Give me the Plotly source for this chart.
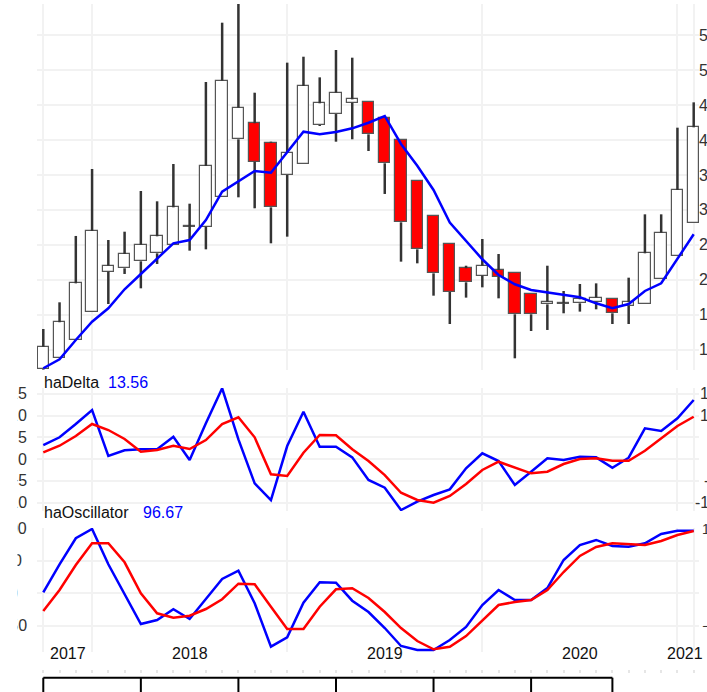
import plotly.graph_objects as go

W, H = 707, 692

# monthly heikin-ashi candles, index 0 = Oct 2016 ... index 40 = Feb 2021
ha_high = [13.0, 16.81, 26.29, 35.86, 25.71, 26.9, 32.71, 31.24, 36.57, 30.9,
           48.29, 56.76, 59.43, 46.76, 39.76, 51.05, 51.9, 48.95, 52.86, 51.76,
           45.48, 43.19, 40.0, 34.14, 29.19, 25.1, 22.04, 25.86, 23.71, 20.95,
           18.0, 22.04, 18.43, 19.43, 19.52, 17.24, 20.33, 29.38, 29.38, 41.76, 45.38]
ha_open = [7.29, 8.81, 11.43, 15.48, 21.19, 21.67, 22.67, 23.81, 25.0, 27.62,
           27.62, 31.9, 40.1, 42.38, 39.62, 35.0, 36.57, 42.14, 43.71, 45.33,
           45.48, 43.19, 40.0, 34.14, 29.19, 25.1, 21.67, 20.62, 21.43, 20.95,
           18.0, 16.52, 16.7, 16.67, 16.9, 17.24, 16.29, 16.52, 20.14, 23.43, 28.19]
ha_close = [10.47, 13.96, 19.52, 27.0, 22.04, 23.71, 25.04, 26.24, 30.38, 27.62,
            36.29, 48.48, 44.62, 36.9, 30.38, 38.19, 47.71, 45.24, 46.76, 45.81,
            40.81, 36.67, 28.24, 24.38, 20.95, 18.29, 19.67, 22.04, 20.48, 15.1,
            15.1, 16.9, 16.62, 17.24, 17.48, 15.24, 16.81, 23.81, 26.76, 32.86, 41.81]
ha_low = [7.2, 8.81, 11.43, 15.48, 16.57, 20.86, 18.81, 22.29, 25.0, 24.19,
          24.38, 31.9, 31.81, 30.24, 25.24, 26.19, 36.57, 42.0, 39.76, 40.1,
          38.43, 32.29, 22.62, 22.38, 17.76, 13.71, 17.48, 18.95, 17.38, 8.81,
          12.71, 12.86, 15.24, 15.48, 15.81, 13.71, 13.71, 16.52, 20.14, 23.43, 28.19]
ha_ma = [7.39, 8.67, 11.43, 14.04, 15.96, 18.67, 20.86, 23.1, 25.24, 25.71,
         28.57, 32.61, 34.04, 35.57, 35.33, 38.33, 41.19, 40.81, 41.14, 41.67,
         42.47, 43.43, 39.43, 36.33, 32.86, 28.19, 25.61, 22.96, 20.71, 19.39,
         18.57, 18.24, 17.96, 17.53, 16.67, 15.96, 16.57, 18.43, 19.53, 23.1, 26.53]

delta = [3.23, 5.0, 8.05, 11.26, 0.71, 2.02, 2.25, 2.25, 5.14, -0.21,
         8.21, 16.24, 4.54, -5.55, -9.38, 3.0, 10.87, 2.84, 2.84, 0.41,
         -4.79, -6.56, -11.67, -9.77, -8.23, -6.93, -2.11, 1.33, -0.44, -5.94,
         -2.89, 0.18, -0.21, 0.55, 0.41, -1.97, 0.32, 7.06, 6.44, 9.36, 13.56]
delta_signal = [1.56, 3.07, 5.3, 8.05, 6.67, 4.61, 1.7, 2.09, 3.07, 2.32,
                4.38, 8.05, 9.59, 5.0, -3.49, -3.88, 1.47, 5.53, 5.46, 2.25,
                -0.44, -3.65, -7.71, -9.38, -10.0, -8.46, -5.71, -2.5, -0.6, -1.88,
                -3.26, -2.89, -1.12, 0.02, 0.18, -0.37, -0.37, 1.93, 4.77, 7.59, 9.72]

osc = [1.4, 44.7, 85.0, 99.4, 44.7, -1.7, -47.7, -41.5, -24.9, -39.9,
       -9.0, 22.0, 34.8, -15.6, -82.8, -68.3, -14.7, 16.9, 16.3, -11.6,
       -29.1, -53.9, -81.7, -87.9, -87.9, -72.4, -52.3, -18.3, 5.0, -10.5,
       -10.5, 8.0, 51.4, 74.6, 82.4, 73.1, 72.0, 77.2, 91.6, 96.67, 96.67]
osc_signal = [-27.6, 5.0, 43.7, 77.2, 77.2, 47.8, -0.2, -31.1, -37.9, -34.8,
              -24.5, -9.4, 14.7, 13.8, -20.9, -55.4, -55.4, -20.9, 6.0, 7.6,
              -7.4, -29.1, -53.9, -74.0, -86.8, -82.8, -66.3, -41.5, -18.3, -13.6,
              -10.5, 5.0, 32.8, 57.6, 71.5, 77.2, 76.2, 74.6, 80.8, 90.1, 96.3]

price_ticks = [10, 15, 20, 25, 30, 35, 40, 45, 50, 55]
delta_ticks = [15, 10, 5, 0, -5, -10]
osc_ticks = [100, 50, 0, -50]
year_labels = ["2017", "2018", "2019", "2020", "2021"]
year_pos = [1.5, 9, 21, 33, 39.45]
grid_x = [0, 3, 15, 27, 39, 40]
bottom_ticks = [0, 6, 12, 18, 24, 30, 35]

FONT = "Liberation Sans, Arial, sans-serif"
GRID = "#F2F2F2"
BLUE = "#0000FF"
RED = "#FF0000"
LABEL = "#333333"


def px_x(p):
    return p / W


def px_y(p):
    return 1 - p / H


def lab(v, minus="\u2212"):
    return str(v).replace("-", minus)


idx = list(range(len(ha_open)))

# wicks drawn above and below the body so they never cross it
wx, wy = [], []
for i in idx:
    top = max(ha_open[i], ha_close[i])
    bot = min(ha_open[i], ha_close[i])
    wx += [i, i, None, i, i, None]
    wy += [ha_high[i], top, None, bot, ha_low[i], None]

body_base = [min(o, c) for o, c in zip(ha_open, ha_close)]
body_len = [max(abs(c - o), 0.12) for o, c in zip(ha_open, ha_close)]
body_fill = ["white" if c >= o else RED for o, c in zip(ha_open, ha_close)]

fig = go.Figure()
fig.add_trace(go.Bar(x=idx, base=body_base, y=body_len, width=0.7,
                     marker=dict(color=body_fill, line=dict(color="#555555", width=1.2)),
                     xaxis="x", yaxis="y"))
fig.add_trace(go.Scatter(x=wx, y=wy, mode="lines", line=dict(color="#333333", width=2.5),
                         xaxis="x", yaxis="y"))
fig.add_trace(go.Scatter(x=idx, y=ha_ma, mode="lines", line=dict(color=BLUE, width=2.5),
                         xaxis="x", yaxis="y"))

fig.add_trace(go.Scatter(x=idx, y=delta, mode="lines", line=dict(color=BLUE, width=2.5),
                         xaxis="x2", yaxis="y2"))
fig.add_trace(go.Scatter(x=idx, y=delta_signal, mode="lines", line=dict(color=RED, width=2.5),
                         xaxis="x2", yaxis="y2"))

fig.add_trace(go.Scatter(x=idx, y=osc, mode="lines", line=dict(color=BLUE, width=2.5),
                         xaxis="x3", yaxis="y3"))
fig.add_trace(go.Scatter(x=idx, y=osc_signal, mode="lines", line=dict(color=RED, width=2.5),
                         xaxis="x3", yaxis="y3"))

xrange = [-0.387, 40.326]
xcommon = dict(domain=[px_x(37), px_x(699)], range=xrange, tickvals=grid_x,
               showticklabels=False, showgrid=True, gridcolor=GRID, gridwidth=2,
               zeroline=False, showline=False, fixedrange=True)
ycommon = dict(showticklabels=False, showgrid=True, gridcolor=GRID, gridwidth=2,
               zeroline=False, showline=False, ticks="", fixedrange=True)

fig.update_layout(
    width=W, height=H,
    margin=dict(l=0, r=0, t=0, b=0),
    paper_bgcolor="white", plot_bgcolor="white",
    showlegend=False, bargap=0,
    font=dict(family=FONT, size=16, color=LABEL),
    xaxis=dict(anchor="y", ticks="", **xcommon),
    xaxis2=dict(anchor="y2", ticks="", matches="x", **xcommon),
    xaxis3=dict(anchor="free", position=px_y(673), matches="x",
                ticks="inside", ticklen=3, tickcolor="#E6E6E6", tickwidth=1.5,
                minor=dict(tickmode="array", tickvals=idx, ticks="inside", ticklen=3,
                           tickcolor="#E6E6E6", tickwidth=1.5, showgrid=False),
                **xcommon),
    yaxis=dict(domain=[px_y(370), px_y(4)], range=[7.14, 59.43], tickvals=price_ticks, **ycommon),
    yaxis2=dict(domain=[px_y(511), px_y(388)], range=[-11.9, 16.31], tickvals=delta_ticks, **ycommon),
    yaxis3=dict(domain=[px_y(652), px_y(528)], range=[-91.0, 100.9], tickvals=osc_ticks, **ycommon),
)

ann = []
# price labels on the right, running off the edge of the page as in the source image
for v in price_ticks:
    ann.append(dict(x=px_x(697.5), xref="paper", xanchor="left", y=v, yref="y",
                    text=str(v), showarrow=False, borderpad=0,
                    font=dict(size=16, color=LABEL)))
# right-hand labels of the indicator panels (mostly off the page)
for v in delta_ticks:
    ann.append(dict(x=px_x(719), xref="paper", xanchor="right", y=v, yref="y2",
                    text=str(v), showarrow=False, borderpad=0,
                    font=dict(size=16, color=LABEL)))
for v in osc_ticks:
    ann.append(dict(x=px_x(727), xref="paper", xanchor="right", y=v, yref="y3",
                    text=lab(v), showarrow=False, borderpad=0,
                    font=dict(size=14, color=LABEL)))
# left-hand labels of the indicator panels
for v in delta_ticks:
    ann.append(dict(x=px_x(28), xref="paper", xanchor="right", y=v, yref="y2",
                    text=lab(v), showarrow=False, borderpad=0,
                    font=dict(size=16, color=LABEL)))
for v in osc_ticks:
    ann.append(dict(x=px_x(13), xref="paper", xanchor="center", y=v, yref="y3",
                    text=lab(v), showarrow=False, borderpad=0,
                    font=dict(size=16, color=LABEL)))
# white strips that hide the left part of those labels
ann.append(dict(x=0, xref="paper", xanchor="left", y=px_y(384), yref="paper", yanchor="top",
                text=" ", width=16, height=285, bgcolor="white", borderpad=0, showarrow=False))
ann.append(dict(x=px_x(-20), xref="paper", xanchor="left", y=px_y(384), yref="paper", yanchor="top",
                text=" ", width=28, height=285, bgcolor="white", borderpad=0, showarrow=False))

# panel titles with last values
ann.append(dict(x=px_x(43), xref="paper", xanchor="left", y=px_y(382), yref="paper",
                text="haDelta", showarrow=False, borderpad=0,
                font=dict(size=16, color="#111111")))
ann.append(dict(x=px_x(107), xref="paper", xanchor="left", y=px_y(382), yref="paper",
                text=f"{delta[-1]:.2f}", showarrow=False, borderpad=0,
                font=dict(size=16, color=BLUE)))
ann.append(dict(x=px_x(43), xref="paper", xanchor="left", y=px_y(521.5), yref="paper",
                text="haOscillator", showarrow=False, borderpad=0,
                font=dict(size=16, color="#111111")))
ann.append(dict(x=px_x(142), xref="paper", xanchor="left", y=px_y(521.5), yref="paper",
                text=f"{osc[-1]:.2f}", showarrow=False, borderpad=0,
                font=dict(size=16, color=BLUE)))

# year labels
for txt, pos in zip(year_labels, year_pos):
    ann.append(dict(x=pos, xref="x3", xanchor="center", y=px_y(663), yref="paper",
                    text=txt, showarrow=False, borderpad=0,
                    font=dict(size=16, color="#111111")))
fig.update_layout(annotations=ann)

# black axis line with long ticks at the very bottom
shapes = [dict(type="line", xref="x3", yref="paper", x0=bottom_ticks[0], x1=bottom_ticks[-1],
               y0=px_y(677.7), y1=px_y(677.7), line=dict(color="black", width=2))]
for t in bottom_ticks:
    shapes.append(dict(type="line", xref="x3", yref="paper", x0=t, x1=t,
                       y0=px_y(677.7), y1=px_y(700), line=dict(color="black", width=2)))
fig.update_layout(shapes=shapes)

fig.write_html("out.html", config={"displayModeBar": False},
               post_script="document.body.style.margin='0';document.body.style.overflow='hidden';")
